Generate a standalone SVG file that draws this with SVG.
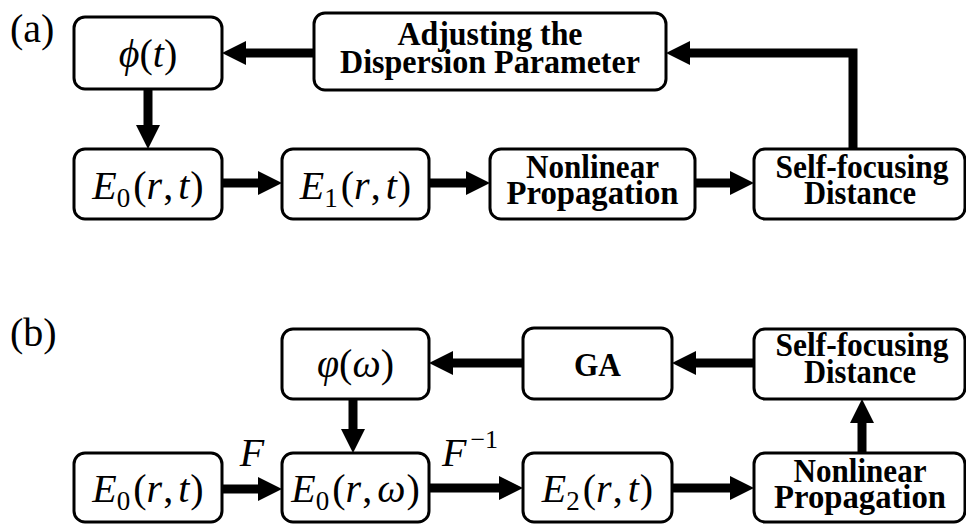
<svg xmlns="http://www.w3.org/2000/svg" width="966" height="524" viewBox="0 0 966 524">
<style>
.box{fill:#fff;stroke:#000;stroke-width:3}
.lbl{font-family:"Liberation Serif","Times New Roman",serif;font-weight:bold;font-size:33px;text-anchor:middle;fill:#000}
.math{font-family:"Liberation Serif","DejaVu Serif",serif;font-size:40px;text-anchor:middle;fill:#000}
.it{font-style:italic}
.sub{font-size:27px}
.tag{font-family:"Liberation Serif","Times New Roman",serif;font-size:40px;fill:#000}
.conn path{stroke:#000;stroke-width:9;fill:none;stroke-linejoin:miter;marker-end:url(#ah)}
</style>
<defs>
<marker id="ah" markerUnits="userSpaceOnUse" markerWidth="24" markerHeight="24" refX="4" refY="12" orient="auto">
<path d="M0,0 L24,12 L0,24 z" fill="#000"/>
</marker>
</defs>
<text class="tag" x="10" y="42">(a)</text>
<text class="tag" x="10" y="346">(b)</text>
<g class="conn">
<path d="M314,53 H242"/>
<path d="M148,89 V129"/>
<path d="M222,183 H262"/>
<path d="M429,183 H470"/>
<path d="M695,183 H734"/>
<path d="M853,148 V53 H686"/>
<path d="M222,489 H262"/>
<path d="M353,399 V433"/>
<path d="M429,488 H503"/>
<path d="M672,488 H734"/>
<path d="M862,453 V419"/>
<path d="M754,363 H692"/>
<path d="M523,363 H449"/>
</g>
<g id="a-phi"><rect class="box" x="74" y="17" width="148" height="72" rx="11"/>
<text class="math" x="148" y="67"><tspan class="it">ϕ</tspan>(<tspan class="it">t</tspan>)</text></g>
<g id="a-adjust"><rect class="box" x="314" y="13" width="352" height="77" rx="11"/>
<text class="lbl" x="490" y="45" textLength="185" lengthAdjust="spacingAndGlyphs">Adjusting the</text><text class="lbl" x="490" y="73" textLength="300" lengthAdjust="spacingAndGlyphs">Dispersion Parameter</text></g>
<g id="a-e0"><rect class="box" x="74" y="149" width="148" height="70" rx="11"/>
<text class="math" x="148" y="199"><tspan class="it">E</tspan><tspan class="sub" dy="8">0</tspan><tspan dy="-8" dx="3">(</tspan><tspan class="it">r</tspan><tspan dx="1">,</tspan><tspan class="it" dx="5">t</tspan><tspan dx="1">)</tspan></text></g>
<g id="a-e1"><rect class="box" x="282" y="149" width="147" height="70" rx="11"/>
<text class="math" x="355.5" y="199"><tspan class="it">E</tspan><tspan class="sub" dy="8">1</tspan><tspan dy="-8" dx="3">(</tspan><tspan class="it">r</tspan><tspan dx="1">,</tspan><tspan class="it" dx="5">t</tspan><tspan dx="1">)</tspan></text></g>
<g id="a-nl"><rect class="box" x="490" y="149" width="205" height="70" rx="11"/>
<text class="lbl" x="592.5" y="178" textLength="133" lengthAdjust="spacingAndGlyphs">Nonlinear</text><text class="lbl" x="592.5" y="204" textLength="172" lengthAdjust="spacingAndGlyphs">Propagation</text></g>
<g id="a-sf"><rect class="box" x="754" y="149" width="211" height="70" rx="11"/>
<text class="lbl" x="862" y="178" textLength="173" lengthAdjust="spacingAndGlyphs">Self-focusing</text><text class="lbl" x="860" y="204" textLength="112" lengthAdjust="spacingAndGlyphs">Distance</text></g>
<g id="b-phi"><rect class="box" x="282" y="329" width="147" height="70" rx="11"/>
<text class="math" x="355.5" y="377"><tspan class="it">φ</tspan>(<tspan class="it">ω</tspan>)</text></g>
<g id="b-ga"><rect class="box" x="523" y="328" width="149" height="71" rx="11"/>
<text class="lbl" x="597.5" y="376" textLength="47" lengthAdjust="spacingAndGlyphs">GA</text></g>
<g id="b-sf"><rect class="box" x="754" y="329" width="211" height="70" rx="11"/>
<text class="lbl" x="862" y="356" textLength="173" lengthAdjust="spacingAndGlyphs">Self-focusing</text><text class="lbl" x="860" y="383" textLength="112" lengthAdjust="spacingAndGlyphs">Distance</text></g>
<g id="b-e0t"><rect class="box" x="74" y="453" width="148" height="69" rx="11"/>
<text class="math" x="148" y="502"><tspan class="it">E</tspan><tspan class="sub" dy="8">0</tspan><tspan dy="-8" dx="3">(</tspan><tspan class="it">r</tspan><tspan dx="1">,</tspan><tspan class="it" dx="5">t</tspan><tspan dx="1">)</tspan></text></g>
<g id="b-e0w"><rect class="box" x="282" y="453" width="147" height="69" rx="11"/>
<text class="math" x="355.5" y="502"><tspan class="it">E</tspan><tspan class="sub" dy="8">0</tspan><tspan dy="-8" dx="3">(</tspan><tspan class="it">r</tspan><tspan dx="1">,</tspan><tspan class="it" dx="5">ω</tspan><tspan dx="1">)</tspan></text></g>
<g id="b-e2"><rect class="box" x="523" y="453" width="149" height="69" rx="11"/>
<text class="math" x="597.5" y="502"><tspan class="it">E</tspan><tspan class="sub" dy="8">2</tspan><tspan dy="-8" dx="3">(</tspan><tspan class="it">r</tspan><tspan dx="1">,</tspan><tspan class="it" dx="5">t</tspan><tspan dx="1">)</tspan></text></g>
<g id="b-nl"><rect class="box" x="754" y="453" width="211" height="69" rx="11"/>
<text class="lbl" x="860" y="482" textLength="133" lengthAdjust="spacingAndGlyphs">Nonlinear</text><text class="lbl" x="860" y="508" textLength="172" lengthAdjust="spacingAndGlyphs">Propagation</text></g>
<g id="lbl-F"><text class="math it" x="252" y="466">F</text></g>
<g id="lbl-Finv"><text class="math" x="442" y="466" style="text-anchor:start"><tspan class="it">F</tspan><tspan dx="4" dy="-18" style="font-size:26px">−1</tspan></text></g>
</svg>
